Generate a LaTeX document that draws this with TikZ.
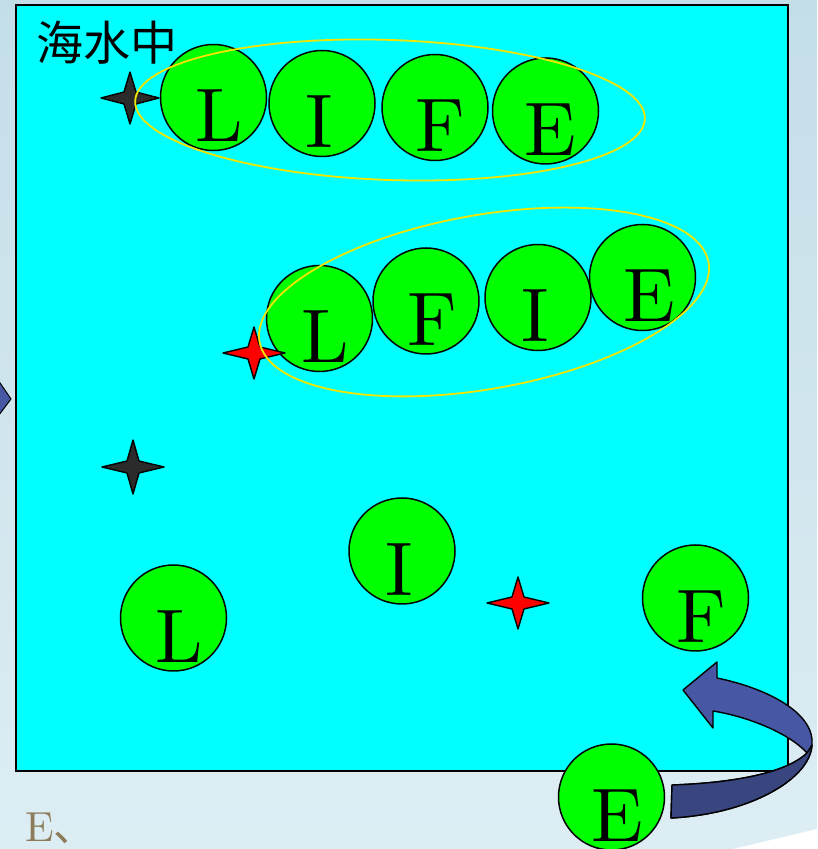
\documentclass[tikz,border=0pt]{standalone}
\usepackage{fontspec}
\newfontfamily\cjk{Noto Sans CJK SC}
\newfontfamily\ballfont{lmroman10-regular}[Extension=.otf]
\definecolor{bgtop}{HTML}{C4DEE8}
\definecolor{bgbot}{HTML}{DDEDF4}
\definecolor{sea}{HTML}{00FFFF}
\definecolor{ballg}{HTML}{00FF00}
\definecolor{ringy}{HTML}{F2E600}
\definecolor{arrowup}{HTML}{4757A3}
\definecolor{arrowlow}{HTML}{38457F}
\definecolor{darkstar}{HTML}{2B2B2B}
\definecolor{olive}{HTML}{8C7D5A}
\tikzset{
  ball/.style={circle,draw=black,line width=1.5pt,fill=ballg,minimum size=106pt,inner sep=0pt},
  letter/.style={anchor=base,inner sep=0pt,font=\ballfont\fontsize{76}{76}\selectfont},
  ring/.style={draw=ringy,line width=1.8pt},
  starline/.style={draw=black,line width=1.4pt,line join=round},
}
\newcommand\drawfourstar[5]{%
  \path[starline,fill=#5] (#1,#2) ++(#3,0) -- ++(-#3+6,6) -- ++(-6,#4-6) -- ++(-6,-#4+6) -- ++(-#3+6,-6)
    -- ++(#3-6,-6) -- ++(6,-#4+6) -- ++(6,#4-6) -- cycle;}
\begin{document}
\begin{tikzpicture}[x=1pt,y=1pt]
\useasboundingbox (0,0) rectangle (817,849);
% background
\shade[top color=bgtop,bottom color=bgbot] (0,0) rectangle (817,849);
\fill[white] (733,0) -- (817,20) -- (817,0) -- cycle;
% left chevron
\path[draw=black,line width=1pt,fill=arrowup] (-4,472) -- (11,450) -- (-4,430) -- cycle;
% sea
\path[draw=black,line width=2pt,fill=sea] (16,844) rectangle (788,78);
\node[anchor=west,inner sep=0pt,font=\cjk\fontsize{47}{47}\selectfont] (title) at (36,806) {海水中};
% top row
\node[ball] (t1) at (213.5,751.5) {};
\node[ball] (t2) at (322,745.5) {};
\node[ball] (t3) at (435,741.5) {};
\node[ball] (t4) at (545.5,738) {};
\node[letter] (tl1) at ([xshift=6pt,yshift=-44.5pt]t1.center) {L};
\node[letter] (tl2) at ([xshift=-3pt,yshift=-44.5pt]t2.center) {I};
\node[letter] (tl3) at ([xshift=5pt,yshift=-44.5pt]t3.center) {F};
\node[letter] (tl4) at ([xshift=5pt,yshift=-44.5pt]t4.center) {E};
% middle row
\node[ball] (m1) at (319.5,530.5) {};
\node[ball] (m2) at (426,548) {};
\node[ball] (m3) at (538,551.5) {};
\node[ball] (m4) at (642.5,571.5) {};
\node[letter] (ml1) at ([xshift=6pt,yshift=-44.5pt]m1.center) {L};
\node[letter] (ml2) at ([xshift=6pt,yshift=-44.5pt]m2.center) {F};
\node[letter] (ml3) at ([xshift=-3pt,yshift=-44.5pt]m3.center) {I};
\node[letter] (ml4) at ([xshift=7pt,yshift=-44.5pt]m4.center) {E};
% bottom balls
\node[ball] (b1) at (173.5,231) {};
\node[ball] (b2) at (402,298) {};
\node[ball] (b3) at (695.5,251) {};
\node[letter] (bl1) at ([xshift=6pt,yshift=-44.5pt]b1.center) {L};
\node[letter] (bl2) at ([xshift=-3pt,yshift=-44.5pt]b2.center) {I};
\node[letter] (bl3) at ([xshift=6pt,yshift=-44.5pt]b3.center) {F};
% stars
\drawfourstar{130}{751}{29}{26}{darkstar}
\drawfourstar{254}{496}{31}{26}{red}
\drawfourstar{133}{382}{31}{27}{darkstar}
\drawfourstar{518}{246}{31}{26}{red}
% rings
\draw[ring] (390,739) [rotate around={-2:(390,739)}] ellipse [x radius=255, y radius=70];
\draw[ring] (484,547) [rotate around={10:(484,547)}] ellipse [x radius=228, y radius=87];
% curved arrow
\path[draw=black,line width=1.4pt,line join=round,fill=arrowup]
  (672,64) .. controls (730,66) and (785,75) .. (807,96)
  .. controls (790,115) and (750,132) .. (713,138) -- (713,121) -- (683,159) -- (717,187) -- (717,171)
  .. controls (770,160) and (815,135) .. (812,104)
  .. controls (810,70) and (750,35) .. (671,31) -- cycle;
\path[draw=black,line width=1.4pt,line join=round,fill=arrowlow]
  (672,64) .. controls (730,66) and (785,75) .. (807,96) -- (812,104)
  .. controls (810,70) and (750,35) .. (671,31) -- cycle;
% E ball leaving
\node[ball] (b4) at (611.5,52) {};
\node[letter] (bl4) at ([xshift=6pt,yshift=-44.5pt]b4.center) {E};
% caption
\node[anchor=base west,inner sep=0pt,text=olive,font=\ballfont\fontsize{42}{42}\selectfont] (cap) at (25,8) {E\cjk 、};
\end{tikzpicture}
\end{document}
